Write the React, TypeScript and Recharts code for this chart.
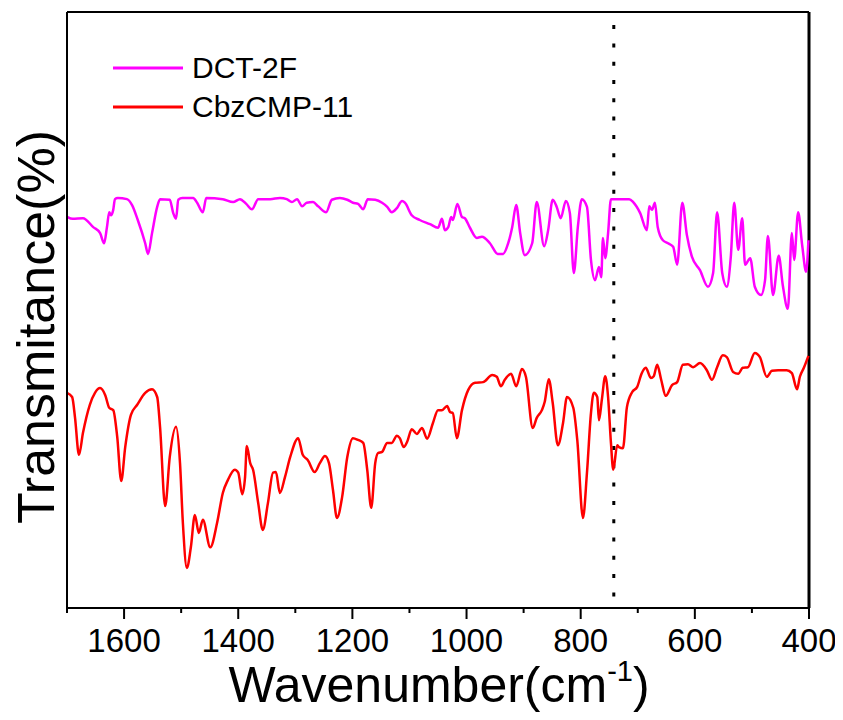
import React from 'react';
import { LineChart, Line, XAxis, YAxis, ReferenceLine, Legend } from 'recharts';

const FONT = 'Arial, "Liberation Sans", sans-serif';

// DCT-2F spectrum (wavenumber, transmittance a.u.)
const dctWave = [
  1699, 1690, 1672, 1654, 1642, 1635, 1630, 1626, 1623, 1619, 1616, 1611, 1595, 1586, 1576, 1563,
  1558, 1551, 1542, 1537, 1520, 1514, 1509, 1505, 1498, 1479, 1472, 1462, 1456, 1427, 1409, 1397,
  1386, 1376, 1365, 1344, 1327, 1315, 1306, 1297, 1288, 1280, 1269, 1260, 1246, 1236, 1222, 1209,
  1199, 1190, 1181, 1173, 1160, 1148, 1139, 1131, 1122, 1113, 1108, 1096, 1082, 1064, 1050, 1043,
  1038, 1032, 1027, 1024, 1016, 1008, 1003, 994, 982, 973, 959, 945, 936, 927, 920, 913,
  906, 898, 885, 877, 864, 857, 849, 842, 835, 826, 819, 812, 805, 798, 789, 782,
  775, 768, 764, 761, 757, 752, 747, 726, 715, 708, 696, 684, 680, 675, 670, 665,
  656, 647, 638, 631, 622, 614, 605, 591, 577, 568, 561, 552, 544, 537, 531, 524,
  517, 512, 503, 495, 484, 477, 472, 463, 453, 446, 437, 430, 426, 419, 412, 405, 401,
];
const dctT = [
  65.6, 65.3, 65.4, 63.9, 62.9, 61.2, 63.9, 66.4, 65.9, 66.8, 68.6, 68.8, 68.6, 67.6, 65.1, 61.2,
  59.4, 62.9, 67.3, 68.6, 68.5, 66.3, 65.3, 68.5, 68.8, 68.8, 68.0, 66.4, 68.8, 68.6, 68.1, 68.6,
  67.8, 66.9, 68.6, 68.6, 68.8, 68.6, 68.1, 68.6, 67.4, 68.0, 68.1, 67.4, 66.4, 68.5, 68.8, 68.5,
  68.0, 67.8, 66.9, 68.6, 68.5, 68.0, 67.3, 66.4, 67.1, 68.3, 68.0, 65.9, 65.1, 64.4, 63.8, 65.3,
  63.4, 63.9, 65.6, 65.1, 67.8, 65.6, 65.4, 63.8, 62.1, 62.3, 61.2, 59.4, 59.4, 61.2, 63.9, 67.6,
  62.9, 59.2, 61.2, 68.1, 60.7, 63.4, 68.5, 67.3, 65.4, 68.3, 66.3, 56.2, 63.9, 68.6, 67.3, 58.4,
  55.0, 57.2, 55.5, 62.1, 58.7, 62.9, 68.6, 68.6, 68.6, 68.1, 66.3, 63.4, 67.4, 66.8, 68.0, 63.9,
  61.7, 61.2, 60.6, 57.6, 68.0, 62.6, 58.9, 56.7, 53.9, 56.2, 66.4, 56.2, 53.9, 58.9, 68.0, 60.1,
  65.4, 57.6, 58.7, 53.9, 52.5, 55.0, 62.4, 52.5, 59.1, 54.2, 50.2, 62.9, 58.4, 66.4, 60.9, 56.4, 61.7,
];

// CbzCMP-11 spectrum
const cbzWave = [
  1700, 1691, 1686, 1679, 1672, 1660, 1651, 1642, 1633, 1626, 1619, 1612, 1605, 1598, 1588, 1577,
  1563, 1551, 1542, 1537, 1528, 1520, 1509, 1502, 1497, 1490, 1483, 1476, 1469, 1462, 1449, 1437,
  1427, 1418, 1406, 1400, 1393, 1388, 1385, 1379, 1374, 1365, 1357, 1348, 1339, 1334, 1327, 1318,
  1309, 1295, 1287, 1278, 1266, 1257, 1248, 1241, 1234, 1227, 1218, 1209, 1199, 1190, 1181, 1174,
  1167, 1160, 1155, 1148, 1139, 1131, 1122, 1117, 1110, 1104, 1096, 1087, 1078, 1069, 1059, 1050,
  1043, 1034, 1029, 1024, 1017, 1008, 997, 985, 971, 955, 947, 940, 933, 922, 913, 903,
  896, 884, 877, 868, 863, 856, 849, 840, 831, 824, 813, 806, 796, 789, 782, 777,
  771, 768, 763, 757, 752, 747, 743, 736, 733, 726, 719, 710, 701, 693, 686, 677,
  672, 666, 659, 651, 640, 631, 621, 612, 603, 591, 579, 570, 561, 551, 544, 533,
  524, 516, 507, 495, 486, 474, 465, 454, 439, 430, 421, 416, 409, 401,
];
const cbzT = [
  36.1, 35.4, 32.0, 25.7, 29.4, 34.1, 36.1, 36.9, 35.7, 33.6, 33.2, 28.7, 21.3, 27.0, 32.4, 34.1,
  36.1, 36.7, 35.4, 30.4, 17.1, 25.3, 30.4, 24.3, 14.3, 6.7, 10.2, 15.6, 12.6, 14.8, 10.2, 14.3,
  19.3, 21.5, 23.2, 22.7, 19.1, 22.0, 27.2, 24.3, 23.2, 17.6, 13.1, 17.6, 22.7, 22.8, 19.3, 22.0,
  25.3, 28.5, 25.7, 24.8, 22.8, 24.3, 25.5, 24.3, 19.8, 15.1, 18.6, 25.3, 28.5, 28.2, 27.7, 23.2,
  16.8, 24.3, 26.0, 26.2, 27.7, 27.7, 28.9, 28.5, 27.0, 27.9, 30.0, 29.2, 30.2, 28.4, 31.0, 33.2,
  33.2, 33.9, 32.9, 32.7, 28.5, 33.2, 36.6, 37.8, 37.9, 39.1, 38.8, 37.2, 38.3, 39.3, 37.2, 40.1,
  38.8, 30.2, 31.9, 33.2, 34.6, 38.4, 34.4, 27.3, 31.0, 35.4, 33.6, 28.2, 15.1, 22.7, 32.7, 36.1,
  35.4, 31.5, 34.9, 38.9, 35.4, 27.7, 23.2, 27.3, 27.0, 26.8, 33.7, 36.2, 37.1, 39.4, 40.3, 38.6,
  38.9, 40.8, 38.3, 35.6, 37.4, 37.9, 40.8, 40.9, 40.4, 41.1, 39.9, 38.3, 40.4, 42.4, 42.1, 39.6,
  39.3, 40.3, 40.4, 42.8, 42.1, 38.8, 39.8, 39.9, 39.9, 39.4, 36.7, 38.8, 40.3, 42.3,
];

const majorTicks = [1600, 1400, 1200, 1000, 800, 600, 400];
const minorTicks = [1700, 1500, 1300, 1100, 900, 700, 500];
const allTicks = [...majorTicks, ...minorTicks].sort((a, b) => b - a);
const markerWave = 742;

const dctData = dctWave.map((w, i) => ({ w, t: dctT[i] }));
const cbzData = cbzWave.map((w, i) => ({ w, t: cbzT[i] }));

const series = [
  { name: 'DCT-2F', color: '#FF00FF' },
  { name: 'CbzCMP-11', color: '#FF0000' },
];

function WaveTick(props: any) {
  const { x, y, payload } = props;
  const major = majorTicks.includes(payload.value);
  return (
    <g>
      <line x1={x} x2={x} y1={y} y2={y + (major ? 11 : 5)} stroke="#000" strokeWidth={2} />
      {major && (
        <text x={x} y={y + 44} textAnchor="middle" fontSize={33} fontFamily={FONT} fill="#000">
          {payload.value}
        </text>
      )}
    </g>
  );
}

const xTitle = () => (
  <text x={431} y={694} textAnchor="middle" fontSize={50} fontFamily={FONT} fill="#000">
    Wavenumber(cm
    <tspan fontSize={29} dy={-21}>-1</tspan>
    <tspan fontSize={50} dy={21}>)</tspan>
  </text>
);

const yTitle = () => (
  <text
    x={46}
    y={319}
    transform="rotate(-90 46 319)"
    textAnchor="middle"
    fontSize={52}
    fontFamily={FONT}
    fill="#000"
  >
    Transmitance(%)
  </text>
);

const renderLegend = () => (
  <div style={{ fontFamily: FONT, fontSize: 30, color: '#000' }}>
    {series.map((s) => (
      <div key={s.name} style={{ display: 'flex', alignItems: 'center', height: 38.5 }}>
        <svg width={70} height={4} style={{ display: 'block' }}>
          <line x1={0} y1={2} x2={70} y2={2} stroke={s.color} strokeWidth={3} />
        </svg>
        <span style={{ marginLeft: 9 }}>{s.name}</span>
      </div>
    ))}
  </div>
);

export default function App() {
  return (
    <LineChart width={835} height={712} margin={{ top: 4, right: 34, bottom: 0, left: 0 }}>
      <XAxis
        dataKey="w"
        type="number"
        domain={[400, 1700]}
        reversed
        ticks={allTicks}
        interval={0}
        tick={WaveTick}
        tickLine={false}
        tickSize={0}
        tickMargin={0}
        axisLine={{ stroke: '#000', strokeWidth: 2 }}
        height={112}
        allowDuplicatedCategory={false}
        label={xTitle}
      />
      <YAxis
        type="number"
        domain={[0, 100]}
        tick={false}
        tickLine={false}
        axisLine={{ stroke: '#000', strokeWidth: 2 }}
        width={59}
        label={yTitle}
      />
      <ReferenceLine y={100} stroke="#000" strokeWidth={2} />
      <ReferenceLine x={400} stroke="#000" strokeWidth={3} />
      <ReferenceLine
        segment={[
          { x: markerWave, y: 97.8 },
          { x: markerWave, y: 0 },
        ]}
        stroke="#000"
        strokeWidth={3}
        strokeDasharray="4 14.3"
      />
      <Line
        data={dctData}
        dataKey="t"
        name="DCT-2F"
        type="monotone"
        stroke="#FF00FF"
        strokeWidth={2.5}
        dot={false}
        isAnimationActive={false}
      />
      <Line
        data={cbzData}
        dataKey="t"
        name="CbzCMP-11"
        type="monotone"
        stroke="#FF0000"
        strokeWidth={2.5}
        dot={false}
        isAnimationActive={false}
      />
      <Legend
        content={renderLegend}
        layout="horizontal"
        verticalAlign="middle"
        align="center"
        wrapperStyle={{ left: 105, top: 41, width: 300 }}
      />
    </LineChart>
  );
}
